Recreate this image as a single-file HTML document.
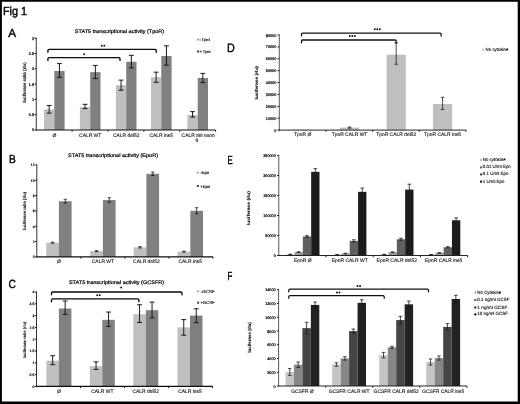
<!DOCTYPE html>
<html><head><meta charset="utf-8"><title>Fig 1</title>
<style>
html,body{margin:0;padding:0;background:#fff;}
svg{display:block;font-family:"Liberation Sans",sans-serif;}
</style></head>
<body>
<svg width="520" height="404" viewBox="0 0 520 404" text-rendering="geometricPrecision">
<defs><filter id="bl" x="0" y="0" width="100%" height="100%" filterUnits="userSpaceOnUse" primitiveUnits="userSpaceOnUse"><feGaussianBlur stdDeviation="0.45"/></filter></defs>
<g filter="url(#bl)">
<rect x="0" y="0" width="520" height="404" fill="#000"/>
<rect x="1.9" y="1.75" width="515.8" height="399.75" fill="#fff"/>
<text x="2.90" y="14.60" font-size="11.7" text-anchor="start" font-weight="normal" fill="#000" textLength="24.20" lengthAdjust="spacingAndGlyphs" stroke="#000" stroke-width="0.42">Fig 1</text>
<text x="8.30" y="36.90" font-size="11.8" text-anchor="start" font-weight="normal" fill="#000" stroke="#000" stroke-width="0.38">A</text>
<text x="9.00" y="163.10" font-size="11.8" text-anchor="start" font-weight="normal" fill="#000" textLength="6.80" lengthAdjust="spacingAndGlyphs" stroke="#000" stroke-width="0.38">B</text>
<text x="8.60" y="287.80" font-size="11.8" text-anchor="start" font-weight="normal" fill="#000" textLength="7.40" lengthAdjust="spacingAndGlyphs" stroke="#000" stroke-width="0.38">C</text>
<text x="227.00" y="52.30" font-size="12.2" text-anchor="start" font-weight="normal" fill="#000" textLength="7.80" lengthAdjust="spacingAndGlyphs" stroke="#000" stroke-width="0.38">D</text>
<text x="227.60" y="163.80" font-size="11.8" text-anchor="start" font-weight="normal" fill="#000" textLength="5.20" lengthAdjust="spacingAndGlyphs" stroke="#000" stroke-width="0.38">E</text>
<text x="227.60" y="279.50" font-size="11.8" text-anchor="start" font-weight="normal" fill="#000" textLength="4.80" lengthAdjust="spacingAndGlyphs" stroke="#000" stroke-width="0.38">F</text>
<rect x="44.00" y="109.50" width="10.30" height="20.50" fill="#bfbfbf"/>
<rect x="54.30" y="70.94" width="10.30" height="59.06" fill="#808080"/>
<rect x="79.90" y="107.05" width="10.30" height="22.95" fill="#bfbfbf"/>
<rect x="90.20" y="72.17" width="10.30" height="57.83" fill="#808080"/>
<rect x="115.90" y="85.17" width="10.30" height="44.83" fill="#bfbfbf"/>
<rect x="126.20" y="61.76" width="10.30" height="68.24" fill="#808080"/>
<rect x="151.00" y="77.22" width="10.30" height="52.78" fill="#bfbfbf"/>
<rect x="161.30" y="55.95" width="10.30" height="74.05" fill="#808080"/>
<rect x="187.40" y="115.01" width="10.30" height="14.99" fill="#bfbfbf"/>
<rect x="197.70" y="77.98" width="10.30" height="52.02" fill="#808080"/>
<line x1="36.25" y1="37.60" x2="36.25" y2="130.40" stroke="#222" stroke-width="0.924"/>
<line x1="35.85" y1="130.00" x2="215.60" y2="130.00" stroke="#111" stroke-width="1.1760000000000002"/>
<line x1="34.55" y1="130.00" x2="36.25" y2="130.00" stroke="#000" stroke-width="0.9"/>
<line x1="34.55" y1="114.70" x2="36.25" y2="114.70" stroke="#000" stroke-width="0.9"/>
<line x1="34.55" y1="99.40" x2="36.25" y2="99.40" stroke="#000" stroke-width="0.9"/>
<line x1="34.55" y1="84.10" x2="36.25" y2="84.10" stroke="#000" stroke-width="0.9"/>
<line x1="34.55" y1="68.80" x2="36.25" y2="68.80" stroke="#000" stroke-width="0.9"/>
<line x1="34.55" y1="53.50" x2="36.25" y2="53.50" stroke="#000" stroke-width="0.9"/>
<line x1="34.55" y1="38.20" x2="36.25" y2="38.20" stroke="#000" stroke-width="0.9"/>
<line x1="72.12" y1="130.00" x2="72.12" y2="131.70" stroke="#000" stroke-width="0.9"/>
<line x1="107.99" y1="130.00" x2="107.99" y2="131.70" stroke="#000" stroke-width="0.9"/>
<line x1="143.86" y1="130.00" x2="143.86" y2="131.70" stroke="#000" stroke-width="0.9"/>
<line x1="179.73" y1="130.00" x2="179.73" y2="131.70" stroke="#000" stroke-width="0.9"/>
<line x1="215.60" y1="130.00" x2="215.60" y2="131.70" stroke="#000" stroke-width="0.9"/>
<line x1="49.15" y1="105.52" x2="49.15" y2="113.17" stroke="#111" stroke-width="0.95"/>
<line x1="46.70" y1="105.52" x2="51.60" y2="105.52" stroke="#111" stroke-width="0.95"/>
<line x1="46.70" y1="113.17" x2="51.60" y2="113.17" stroke="#111" stroke-width="0.95"/>
<line x1="59.45" y1="63.60" x2="59.45" y2="77.37" stroke="#111" stroke-width="0.95"/>
<line x1="57.00" y1="63.60" x2="61.90" y2="63.60" stroke="#111" stroke-width="0.95"/>
<line x1="57.00" y1="77.37" x2="61.90" y2="77.37" stroke="#111" stroke-width="0.95"/>
<line x1="85.05" y1="104.30" x2="85.05" y2="108.58" stroke="#111" stroke-width="0.95"/>
<line x1="82.60" y1="104.30" x2="87.50" y2="104.30" stroke="#111" stroke-width="0.95"/>
<line x1="82.60" y1="108.58" x2="87.50" y2="108.58" stroke="#111" stroke-width="0.95"/>
<line x1="95.35" y1="65.43" x2="95.35" y2="78.59" stroke="#111" stroke-width="0.95"/>
<line x1="92.90" y1="65.43" x2="97.80" y2="65.43" stroke="#111" stroke-width="0.95"/>
<line x1="92.90" y1="78.59" x2="97.80" y2="78.59" stroke="#111" stroke-width="0.95"/>
<line x1="121.05" y1="80.12" x2="121.05" y2="90.22" stroke="#111" stroke-width="0.95"/>
<line x1="118.60" y1="80.12" x2="123.50" y2="80.12" stroke="#111" stroke-width="0.95"/>
<line x1="118.60" y1="90.22" x2="123.50" y2="90.22" stroke="#111" stroke-width="0.95"/>
<line x1="131.35" y1="55.34" x2="131.35" y2="67.88" stroke="#111" stroke-width="0.95"/>
<line x1="128.90" y1="55.34" x2="133.80" y2="55.34" stroke="#111" stroke-width="0.95"/>
<line x1="128.90" y1="67.88" x2="133.80" y2="67.88" stroke="#111" stroke-width="0.95"/>
<line x1="156.15" y1="72.17" x2="156.15" y2="82.26" stroke="#111" stroke-width="0.95"/>
<line x1="153.70" y1="72.17" x2="158.60" y2="72.17" stroke="#111" stroke-width="0.95"/>
<line x1="153.70" y1="82.26" x2="158.60" y2="82.26" stroke="#111" stroke-width="0.95"/>
<line x1="166.45" y1="45.85" x2="166.45" y2="65.13" stroke="#111" stroke-width="0.95"/>
<line x1="164.00" y1="45.85" x2="168.90" y2="45.85" stroke="#111" stroke-width="0.95"/>
<line x1="164.00" y1="65.13" x2="168.90" y2="65.13" stroke="#111" stroke-width="0.95"/>
<line x1="192.55" y1="111.64" x2="192.55" y2="117.15" stroke="#111" stroke-width="0.95"/>
<line x1="190.10" y1="111.64" x2="195.00" y2="111.64" stroke="#111" stroke-width="0.95"/>
<line x1="190.10" y1="117.15" x2="195.00" y2="117.15" stroke="#111" stroke-width="0.95"/>
<line x1="202.85" y1="73.39" x2="202.85" y2="82.57" stroke="#111" stroke-width="0.95"/>
<line x1="200.40" y1="73.39" x2="205.30" y2="73.39" stroke="#111" stroke-width="0.95"/>
<line x1="200.40" y1="82.57" x2="205.30" y2="82.57" stroke="#111" stroke-width="0.95"/>
<text x="34.05" y="131.40" font-size="3.75" text-anchor="end" font-weight="normal" fill="#000" stroke="#000" stroke-width="0.2">0</text>
<text x="34.05" y="116.10" font-size="3.75" text-anchor="end" font-weight="normal" fill="#000" stroke="#000" stroke-width="0.2">0.5</text>
<text x="34.05" y="100.80" font-size="3.75" text-anchor="end" font-weight="normal" fill="#000" stroke="#000" stroke-width="0.2">1</text>
<text x="34.05" y="85.50" font-size="3.75" text-anchor="end" font-weight="normal" fill="#000" stroke="#000" stroke-width="0.2">1.5</text>
<text x="34.05" y="70.20" font-size="3.75" text-anchor="end" font-weight="normal" fill="#000" stroke="#000" stroke-width="0.2">2</text>
<text x="34.05" y="54.90" font-size="3.75" text-anchor="end" font-weight="normal" fill="#000" stroke="#000" stroke-width="0.2">2.5</text>
<text x="34.05" y="39.60" font-size="3.75" text-anchor="end" font-weight="normal" fill="#000" stroke="#000" stroke-width="0.2">3</text>
<text x="119.50" y="32.70" font-size="5.1" text-anchor="middle" font-weight="normal" fill="#000" textLength="89.40" lengthAdjust="spacingAndGlyphs" stroke="#000" stroke-width="0.2">STAT5 transcriptional activity (TpoR)</text>
<text x="54.30" y="136.90" font-size="4.95" text-anchor="middle" font-weight="normal" fill="#111" stroke="#111" stroke-width="0.11">Ø</text>
<text x="90.20" y="136.90" font-size="4.95" text-anchor="middle" font-weight="normal" fill="#111" stroke="#111" stroke-width="0.11">CALR WT</text>
<text x="126.20" y="136.90" font-size="4.95" text-anchor="middle" font-weight="normal" fill="#111" stroke="#111" stroke-width="0.11">CALR del52</text>
<text x="161.30" y="136.90" font-size="4.95" text-anchor="middle" font-weight="normal" fill="#111" stroke="#111" stroke-width="0.11">CALR ins5</text>
<text x="198.20" y="136.90" font-size="4.95" text-anchor="middle" font-weight="normal" fill="#111" stroke="#111" stroke-width="0.11">CALR del exon</text>
<text x="196.80" y="142.10" font-size="4.95" text-anchor="middle" font-weight="normal" fill="#111" stroke="#111" stroke-width="0.11">9</text>
<text x="24.20" y="82.60" font-size="4.6" text-anchor="middle" font-weight="bold" fill="#111" transform="rotate(-90 24.20 82.60)" textLength="40.50" lengthAdjust="spacingAndGlyphs" dominant-baseline="central" stroke="#111" stroke-width="0.1">luciferase ratio (rlu)</text>
<rect x="197.10" y="38.60" width="2.00" height="2.00" fill="#a4a4a4"/>
<text x="199.60" y="41.10" font-size="4.0" text-anchor="start" font-weight="normal" fill="#000" textLength="10.40" lengthAdjust="spacingAndGlyphs" stroke="#000" stroke-width="0.13">-Tpo</text>
<rect x="197.10" y="50.50" width="2.00" height="2.00" fill="#3c3c3c"/>
<text x="199.60" y="53.00" font-size="4.0" text-anchor="start" font-weight="normal" fill="#000" textLength="11.00" lengthAdjust="spacingAndGlyphs" stroke="#000" stroke-width="0.13">+Tpo</text>
<path d="M47.90,52.20 L47.90,50.60 Q47.90,49.40 49.10,49.40 L155.00,49.40 Q156.20,49.40 156.20,50.60 L156.20,52.20" fill="none" stroke="#080808" stroke-width="1.35" stroke-linecap="round"/>
<path d="M47.90,60.40 L47.90,58.80 Q47.90,57.60 49.10,57.60 L118.80,57.60 Q120.00,57.60 120.00,58.80 L120.00,60.40" fill="none" stroke="#080808" stroke-width="1.35" stroke-linecap="round"/>
<circle cx="101.72" cy="45.70" r="0.98" fill="#111"/>
<circle cx="104.28" cy="45.70" r="0.98" fill="#111"/>
<circle cx="84.20" cy="54.30" r="0.98" fill="#111"/>
<rect x="46.20" y="242.73" width="12.70" height="14.17" fill="#bfbfbf"/>
<rect x="58.90" y="201.21" width="12.70" height="55.69" fill="#808080"/>
<rect x="90.20" y="251.15" width="12.70" height="5.75" fill="#bfbfbf"/>
<rect x="102.90" y="200.06" width="12.70" height="56.84" fill="#808080"/>
<rect x="133.70" y="247.32" width="12.70" height="9.57" fill="#bfbfbf"/>
<rect x="146.40" y="173.79" width="12.70" height="83.11" fill="#808080"/>
<rect x="177.60" y="251.69" width="12.70" height="5.21" fill="#bfbfbf"/>
<rect x="190.30" y="210.79" width="12.70" height="46.11" fill="#808080"/>
<line x1="36.80" y1="164.50" x2="36.80" y2="257.30" stroke="#222" stroke-width="0.924"/>
<line x1="36.40" y1="256.90" x2="213.00" y2="256.90" stroke="#111" stroke-width="1.1760000000000002"/>
<line x1="35.10" y1="256.90" x2="36.80" y2="256.90" stroke="#000" stroke-width="0.9"/>
<line x1="35.10" y1="241.58" x2="36.80" y2="241.58" stroke="#000" stroke-width="0.9"/>
<line x1="35.10" y1="226.26" x2="36.80" y2="226.26" stroke="#000" stroke-width="0.9"/>
<line x1="35.10" y1="210.94" x2="36.80" y2="210.94" stroke="#000" stroke-width="0.9"/>
<line x1="35.10" y1="195.62" x2="36.80" y2="195.62" stroke="#000" stroke-width="0.9"/>
<line x1="35.10" y1="180.30" x2="36.80" y2="180.30" stroke="#000" stroke-width="0.9"/>
<line x1="35.10" y1="164.98" x2="36.80" y2="164.98" stroke="#000" stroke-width="0.9"/>
<line x1="80.85" y1="256.90" x2="80.85" y2="258.60" stroke="#000" stroke-width="0.9"/>
<line x1="124.90" y1="256.90" x2="124.90" y2="258.60" stroke="#000" stroke-width="0.9"/>
<line x1="168.95" y1="256.90" x2="168.95" y2="258.60" stroke="#000" stroke-width="0.9"/>
<line x1="213.00" y1="256.90" x2="213.00" y2="258.60" stroke="#000" stroke-width="0.9"/>
<line x1="52.55" y1="242.19" x2="52.55" y2="243.27" stroke="#111" stroke-width="0.75"/>
<line x1="50.85" y1="242.19" x2="54.25" y2="242.19" stroke="#111" stroke-width="0.75"/>
<line x1="50.85" y1="243.27" x2="54.25" y2="243.27" stroke="#111" stroke-width="0.75"/>
<line x1="65.25" y1="199.30" x2="65.25" y2="203.13" stroke="#111" stroke-width="0.75"/>
<line x1="63.55" y1="199.30" x2="66.95" y2="199.30" stroke="#111" stroke-width="0.75"/>
<line x1="63.55" y1="203.13" x2="66.95" y2="203.13" stroke="#111" stroke-width="0.75"/>
<line x1="96.55" y1="250.62" x2="96.55" y2="251.69" stroke="#111" stroke-width="0.75"/>
<line x1="94.85" y1="250.62" x2="98.25" y2="250.62" stroke="#111" stroke-width="0.75"/>
<line x1="94.85" y1="251.69" x2="98.25" y2="251.69" stroke="#111" stroke-width="0.75"/>
<line x1="109.25" y1="197.76" x2="109.25" y2="202.36" stroke="#111" stroke-width="0.75"/>
<line x1="107.55" y1="197.76" x2="110.95" y2="197.76" stroke="#111" stroke-width="0.75"/>
<line x1="107.55" y1="202.36" x2="110.95" y2="202.36" stroke="#111" stroke-width="0.75"/>
<line x1="140.05" y1="246.64" x2="140.05" y2="248.01" stroke="#111" stroke-width="0.75"/>
<line x1="138.35" y1="246.64" x2="141.75" y2="246.64" stroke="#111" stroke-width="0.75"/>
<line x1="138.35" y1="248.01" x2="141.75" y2="248.01" stroke="#111" stroke-width="0.75"/>
<line x1="152.75" y1="172.10" x2="152.75" y2="175.47" stroke="#111" stroke-width="0.75"/>
<line x1="151.05" y1="172.10" x2="154.45" y2="172.10" stroke="#111" stroke-width="0.75"/>
<line x1="151.05" y1="175.47" x2="154.45" y2="175.47" stroke="#111" stroke-width="0.75"/>
<line x1="183.95" y1="251.15" x2="183.95" y2="252.23" stroke="#111" stroke-width="0.75"/>
<line x1="182.25" y1="251.15" x2="185.65" y2="251.15" stroke="#111" stroke-width="0.75"/>
<line x1="182.25" y1="252.23" x2="185.65" y2="252.23" stroke="#111" stroke-width="0.75"/>
<line x1="196.65" y1="207.72" x2="196.65" y2="213.85" stroke="#111" stroke-width="0.75"/>
<line x1="194.95" y1="207.72" x2="198.35" y2="207.72" stroke="#111" stroke-width="0.75"/>
<line x1="194.95" y1="213.85" x2="198.35" y2="213.85" stroke="#111" stroke-width="0.75"/>
<text x="34.60" y="258.30" font-size="3.45" text-anchor="end" font-weight="normal" fill="#000" stroke="#000" stroke-width="0.2">0</text>
<text x="34.60" y="242.98" font-size="3.45" text-anchor="end" font-weight="normal" fill="#000" stroke="#000" stroke-width="0.2">2</text>
<text x="34.60" y="227.66" font-size="3.45" text-anchor="end" font-weight="normal" fill="#000" stroke="#000" stroke-width="0.2">4</text>
<text x="34.60" y="212.34" font-size="3.45" text-anchor="end" font-weight="normal" fill="#000" stroke="#000" stroke-width="0.2">6</text>
<text x="34.60" y="197.02" font-size="3.45" text-anchor="end" font-weight="normal" fill="#000" stroke="#000" stroke-width="0.2">8</text>
<text x="34.60" y="181.70" font-size="3.45" text-anchor="end" font-weight="normal" fill="#000" stroke="#000" stroke-width="0.2">10</text>
<text x="34.60" y="166.38" font-size="3.45" text-anchor="end" font-weight="normal" fill="#000" stroke="#000" stroke-width="0.2">12</text>
<text x="113.00" y="156.60" font-size="5.1" text-anchor="middle" font-weight="normal" fill="#000" textLength="90.00" lengthAdjust="spacingAndGlyphs" stroke="#000" stroke-width="0.2">STAT5 transcriptional activity (EpoR)</text>
<text x="58.90" y="262.80" font-size="4.95" text-anchor="middle" font-weight="normal" fill="#111" stroke="#111" stroke-width="0.11">Ø</text>
<text x="102.90" y="262.80" font-size="4.95" text-anchor="middle" font-weight="normal" fill="#111" stroke="#111" stroke-width="0.11">CALR WT</text>
<text x="146.40" y="262.80" font-size="4.95" text-anchor="middle" font-weight="normal" fill="#111" stroke="#111" stroke-width="0.11">CALR del52</text>
<text x="190.30" y="262.80" font-size="4.95" text-anchor="middle" font-weight="normal" fill="#111" stroke="#111" stroke-width="0.11">CALR ins5</text>
<text x="24.00" y="211.00" font-size="4.4" text-anchor="middle" font-weight="bold" fill="#111" transform="rotate(-90 24.00 211.00)" textLength="38.00" lengthAdjust="spacingAndGlyphs" dominant-baseline="central" stroke="#111" stroke-width="0.1">luciferase ratio (rlu)</text>
<rect x="196.80" y="171.70" width="2.00" height="2.00" fill="#a4a4a4"/>
<text x="200.20" y="174.20" font-size="4.0" text-anchor="start" font-weight="normal" fill="#000" textLength="9.00" lengthAdjust="spacingAndGlyphs" stroke="#000" stroke-width="0.13">-Epo</text>
<rect x="196.80" y="185.00" width="2.00" height="2.00" fill="#3c3c3c"/>
<text x="200.20" y="187.50" font-size="4.0" text-anchor="start" font-weight="normal" fill="#000" textLength="10.00" lengthAdjust="spacingAndGlyphs" stroke="#000" stroke-width="0.13">+Epo</text>
<rect x="46.40" y="360.68" width="12.50" height="25.72" fill="#bfbfbf"/>
<rect x="58.90" y="308.52" width="12.50" height="77.88" fill="#808080"/>
<rect x="89.80" y="366.22" width="12.50" height="20.18" fill="#bfbfbf"/>
<rect x="102.30" y="319.85" width="12.50" height="66.55" fill="#808080"/>
<rect x="133.30" y="314.18" width="12.50" height="72.22" fill="#bfbfbf"/>
<rect x="145.80" y="310.17" width="12.50" height="76.23" fill="#808080"/>
<rect x="177.50" y="327.40" width="12.50" height="59.00" fill="#bfbfbf"/>
<rect x="190.00" y="315.60" width="12.50" height="70.80" fill="#808080"/>
<line x1="36.50" y1="291.50" x2="36.50" y2="386.80" stroke="#222" stroke-width="0.924"/>
<line x1="36.10" y1="386.40" x2="212.60" y2="386.40" stroke="#111" stroke-width="1.1760000000000002"/>
<line x1="34.80" y1="386.40" x2="36.50" y2="386.40" stroke="#000" stroke-width="0.9"/>
<line x1="34.80" y1="374.60" x2="36.50" y2="374.60" stroke="#000" stroke-width="0.9"/>
<line x1="34.80" y1="362.80" x2="36.50" y2="362.80" stroke="#000" stroke-width="0.9"/>
<line x1="34.80" y1="351.00" x2="36.50" y2="351.00" stroke="#000" stroke-width="0.9"/>
<line x1="34.80" y1="339.20" x2="36.50" y2="339.20" stroke="#000" stroke-width="0.9"/>
<line x1="34.80" y1="327.40" x2="36.50" y2="327.40" stroke="#000" stroke-width="0.9"/>
<line x1="34.80" y1="315.60" x2="36.50" y2="315.60" stroke="#000" stroke-width="0.9"/>
<line x1="34.80" y1="303.80" x2="36.50" y2="303.80" stroke="#000" stroke-width="0.9"/>
<line x1="34.80" y1="292.00" x2="36.50" y2="292.00" stroke="#000" stroke-width="0.9"/>
<line x1="80.53" y1="386.40" x2="80.53" y2="388.10" stroke="#000" stroke-width="0.9"/>
<line x1="124.55" y1="386.40" x2="124.55" y2="388.10" stroke="#000" stroke-width="0.9"/>
<line x1="168.57" y1="386.40" x2="168.57" y2="388.10" stroke="#000" stroke-width="0.9"/>
<line x1="212.60" y1="386.40" x2="212.60" y2="388.10" stroke="#000" stroke-width="0.9"/>
<line x1="52.65" y1="355.72" x2="52.65" y2="364.69" stroke="#111" stroke-width="0.95"/>
<line x1="50.20" y1="355.72" x2="55.10" y2="355.72" stroke="#111" stroke-width="0.95"/>
<line x1="50.20" y1="364.69" x2="55.10" y2="364.69" stroke="#111" stroke-width="0.95"/>
<line x1="65.15" y1="300.97" x2="65.15" y2="314.42" stroke="#111" stroke-width="0.95"/>
<line x1="62.70" y1="300.97" x2="67.60" y2="300.97" stroke="#111" stroke-width="0.95"/>
<line x1="62.70" y1="314.42" x2="67.60" y2="314.42" stroke="#111" stroke-width="0.95"/>
<line x1="96.05" y1="361.86" x2="96.05" y2="369.41" stroke="#111" stroke-width="0.95"/>
<line x1="93.60" y1="361.86" x2="98.50" y2="361.86" stroke="#111" stroke-width="0.95"/>
<line x1="93.60" y1="369.41" x2="98.50" y2="369.41" stroke="#111" stroke-width="0.95"/>
<line x1="108.55" y1="312.06" x2="108.55" y2="326.46" stroke="#111" stroke-width="0.95"/>
<line x1="106.10" y1="312.06" x2="111.00" y2="312.06" stroke="#111" stroke-width="0.95"/>
<line x1="106.10" y1="326.46" x2="111.00" y2="326.46" stroke="#111" stroke-width="0.95"/>
<line x1="139.55" y1="304.74" x2="139.55" y2="322.44" stroke="#111" stroke-width="0.95"/>
<line x1="137.10" y1="304.74" x2="142.00" y2="304.74" stroke="#111" stroke-width="0.95"/>
<line x1="137.10" y1="322.44" x2="142.00" y2="322.44" stroke="#111" stroke-width="0.95"/>
<line x1="152.05" y1="302.15" x2="152.05" y2="317.96" stroke="#111" stroke-width="0.95"/>
<line x1="149.60" y1="302.15" x2="154.50" y2="302.15" stroke="#111" stroke-width="0.95"/>
<line x1="149.60" y1="317.96" x2="154.50" y2="317.96" stroke="#111" stroke-width="0.95"/>
<line x1="183.75" y1="319.61" x2="183.75" y2="335.19" stroke="#111" stroke-width="0.95"/>
<line x1="181.30" y1="319.61" x2="186.20" y2="319.61" stroke="#111" stroke-width="0.95"/>
<line x1="181.30" y1="335.19" x2="186.20" y2="335.19" stroke="#111" stroke-width="0.95"/>
<line x1="196.25" y1="308.76" x2="196.25" y2="322.68" stroke="#111" stroke-width="0.95"/>
<line x1="193.80" y1="308.76" x2="198.70" y2="308.76" stroke="#111" stroke-width="0.95"/>
<line x1="193.80" y1="322.68" x2="198.70" y2="322.68" stroke="#111" stroke-width="0.95"/>
<text x="34.30" y="387.80" font-size="3.45" text-anchor="end" font-weight="normal" fill="#000" stroke="#000" stroke-width="0.2">0</text>
<text x="34.30" y="376.00" font-size="3.45" text-anchor="end" font-weight="normal" fill="#000" stroke="#000" stroke-width="0.2">0.5</text>
<text x="34.30" y="364.20" font-size="3.45" text-anchor="end" font-weight="normal" fill="#000" stroke="#000" stroke-width="0.2">1</text>
<text x="34.30" y="352.40" font-size="3.45" text-anchor="end" font-weight="normal" fill="#000" stroke="#000" stroke-width="0.2">1.5</text>
<text x="34.30" y="340.60" font-size="3.45" text-anchor="end" font-weight="normal" fill="#000" stroke="#000" stroke-width="0.2">2</text>
<text x="34.30" y="328.80" font-size="3.45" text-anchor="end" font-weight="normal" fill="#000" stroke="#000" stroke-width="0.2">2.5</text>
<text x="34.30" y="317.00" font-size="3.45" text-anchor="end" font-weight="normal" fill="#000" stroke="#000" stroke-width="0.2">3</text>
<text x="34.30" y="305.20" font-size="3.45" text-anchor="end" font-weight="normal" fill="#000" stroke="#000" stroke-width="0.2">3.5</text>
<text x="34.30" y="293.40" font-size="3.45" text-anchor="end" font-weight="normal" fill="#000" stroke="#000" stroke-width="0.2">4</text>
<text x="116.50" y="284.20" font-size="5.1" text-anchor="middle" font-weight="normal" fill="#000" textLength="95.20" lengthAdjust="spacingAndGlyphs" stroke="#000" stroke-width="0.2">STAT5 transcriptional activity (GCSFR)</text>
<text x="58.90" y="392.80" font-size="4.95" text-anchor="middle" font-weight="normal" fill="#111" stroke="#111" stroke-width="0.11">Ø</text>
<text x="102.30" y="392.80" font-size="4.95" text-anchor="middle" font-weight="normal" fill="#111" stroke="#111" stroke-width="0.11">CALR WT</text>
<text x="145.80" y="392.80" font-size="4.95" text-anchor="middle" font-weight="normal" fill="#111" stroke="#111" stroke-width="0.11">CALR del52</text>
<text x="190.00" y="392.80" font-size="4.95" text-anchor="middle" font-weight="normal" fill="#111" stroke="#111" stroke-width="0.11">CALR ins5</text>
<text x="24.00" y="340.00" font-size="4.2" text-anchor="middle" font-weight="bold" fill="#111" transform="rotate(-90 24.00 340.00)" textLength="36.50" lengthAdjust="spacingAndGlyphs" dominant-baseline="central" stroke="#111" stroke-width="0.1">luciferase ratio (rlu)</text>
<rect x="197.10" y="290.30" width="2.00" height="2.00" fill="#a4a4a4"/>
<text x="200.40" y="292.80" font-size="4.0" text-anchor="start" font-weight="normal" fill="#000" textLength="14.20" lengthAdjust="spacingAndGlyphs" stroke="#000" stroke-width="0.13">-GCSF</text>
<rect x="197.10" y="301.70" width="2.00" height="2.00" fill="#3c3c3c"/>
<text x="200.40" y="304.20" font-size="4.0" text-anchor="start" font-weight="normal" fill="#000" textLength="14.20" lengthAdjust="spacingAndGlyphs" stroke="#000" stroke-width="0.13">+GCSF</text>
<path d="M51.50,294.80 L51.50,293.20 Q51.50,292.00 52.70,292.00 L180.80,292.00 Q182.00,292.00 182.00,293.20 L182.00,294.80" fill="none" stroke="#080808" stroke-width="1.35" stroke-linecap="round"/>
<path d="M51.50,301.70 L51.50,300.10 Q51.50,298.90 52.70,298.90 L137.70,298.90 Q138.90,298.90 138.90,300.10 L138.90,301.70" fill="none" stroke="#080808" stroke-width="1.35" stroke-linecap="round"/>
<circle cx="121.20" cy="287.50" r="0.98" fill="#111"/>
<circle cx="97.22" cy="295.30" r="0.98" fill="#111"/>
<circle cx="99.78" cy="295.30" r="0.98" fill="#111"/>
<rect x="293.05" y="129.74" width="19.20" height="0.36" fill="#bfbfbf"/>
<rect x="339.90" y="127.60" width="19.20" height="2.50" fill="#bfbfbf"/>
<rect x="386.60" y="54.72" width="19.20" height="75.38" fill="#bfbfbf"/>
<rect x="433.00" y="104.06" width="19.20" height="26.04" fill="#bfbfbf"/>
<line x1="279.30" y1="34.50" x2="279.30" y2="130.50" stroke="#222" stroke-width="0.748"/>
<line x1="278.90" y1="130.10" x2="466.00" y2="130.10" stroke="#1a1a1a" stroke-width="0.9520000000000001"/>
<line x1="277.60" y1="130.10" x2="279.30" y2="130.10" stroke="#000" stroke-width="0.9"/>
<line x1="277.60" y1="118.21" x2="279.30" y2="118.21" stroke="#000" stroke-width="0.9"/>
<line x1="277.60" y1="106.32" x2="279.30" y2="106.32" stroke="#000" stroke-width="0.9"/>
<line x1="277.60" y1="94.43" x2="279.30" y2="94.43" stroke="#000" stroke-width="0.9"/>
<line x1="277.60" y1="82.54" x2="279.30" y2="82.54" stroke="#000" stroke-width="0.9"/>
<line x1="277.60" y1="70.65" x2="279.30" y2="70.65" stroke="#000" stroke-width="0.9"/>
<line x1="277.60" y1="58.76" x2="279.30" y2="58.76" stroke="#000" stroke-width="0.9"/>
<line x1="277.60" y1="46.87" x2="279.30" y2="46.87" stroke="#000" stroke-width="0.9"/>
<line x1="277.60" y1="34.98" x2="279.30" y2="34.98" stroke="#000" stroke-width="0.9"/>
<line x1="325.98" y1="130.10" x2="325.98" y2="131.80" stroke="#000" stroke-width="0.9"/>
<line x1="372.65" y1="130.10" x2="372.65" y2="131.80" stroke="#000" stroke-width="0.9"/>
<line x1="419.32" y1="130.10" x2="419.32" y2="131.80" stroke="#000" stroke-width="0.9"/>
<line x1="466.00" y1="130.10" x2="466.00" y2="131.80" stroke="#000" stroke-width="0.9"/>
<line x1="349.50" y1="127.07" x2="349.50" y2="128.14" stroke="#1c1c1c" stroke-width="0.8"/>
<line x1="347.70" y1="127.07" x2="351.30" y2="127.07" stroke="#1c1c1c" stroke-width="0.8"/>
<line x1="347.70" y1="128.14" x2="351.30" y2="128.14" stroke="#1c1c1c" stroke-width="0.8"/>
<line x1="396.20" y1="42.83" x2="396.20" y2="64.23" stroke="#1c1c1c" stroke-width="0.8"/>
<line x1="394.40" y1="42.83" x2="398.00" y2="42.83" stroke="#1c1c1c" stroke-width="0.8"/>
<line x1="394.40" y1="64.23" x2="398.00" y2="64.23" stroke="#1c1c1c" stroke-width="0.8"/>
<line x1="442.60" y1="97.28" x2="442.60" y2="109.53" stroke="#1c1c1c" stroke-width="0.8"/>
<line x1="440.80" y1="97.28" x2="444.40" y2="97.28" stroke="#1c1c1c" stroke-width="0.8"/>
<line x1="440.80" y1="109.53" x2="444.40" y2="109.53" stroke="#1c1c1c" stroke-width="0.8"/>
<text x="276.30" y="131.70" font-size="3.75" text-anchor="end" font-weight="normal" fill="#000" stroke="#000" stroke-width="0.2">0</text>
<text x="276.30" y="119.81" font-size="3.75" text-anchor="end" font-weight="normal" fill="#000" stroke="#000" stroke-width="0.2">10000</text>
<text x="276.30" y="107.92" font-size="3.75" text-anchor="end" font-weight="normal" fill="#000" stroke="#000" stroke-width="0.2">20000</text>
<text x="276.30" y="96.03" font-size="3.75" text-anchor="end" font-weight="normal" fill="#000" stroke="#000" stroke-width="0.2">30000</text>
<text x="276.30" y="84.14" font-size="3.75" text-anchor="end" font-weight="normal" fill="#000" stroke="#000" stroke-width="0.2">40000</text>
<text x="276.30" y="72.25" font-size="3.75" text-anchor="end" font-weight="normal" fill="#000" stroke="#000" stroke-width="0.2">50000</text>
<text x="276.30" y="60.36" font-size="3.75" text-anchor="end" font-weight="normal" fill="#000" stroke="#000" stroke-width="0.2">60000</text>
<text x="276.30" y="48.47" font-size="3.75" text-anchor="end" font-weight="normal" fill="#000" stroke="#000" stroke-width="0.2">70000</text>
<text x="276.30" y="36.58" font-size="3.75" text-anchor="end" font-weight="normal" fill="#000" stroke="#000" stroke-width="0.2">80000</text>
<text x="302.65" y="136.10" font-size="4.95" text-anchor="middle" font-weight="normal" fill="#111" stroke="#111" stroke-width="0.11">TpoR Ø</text>
<text x="349.50" y="136.10" font-size="4.95" text-anchor="middle" font-weight="normal" fill="#111" stroke="#111" stroke-width="0.11">TpoR CALR WT</text>
<text x="396.20" y="136.10" font-size="4.95" text-anchor="middle" font-weight="normal" fill="#111" stroke="#111" stroke-width="0.11">TpoR CALR del52</text>
<text x="442.60" y="136.10" font-size="4.95" text-anchor="middle" font-weight="normal" fill="#111" stroke="#111" stroke-width="0.11">TpoR CALR ins5</text>
<text x="256.20" y="82.80" font-size="4.4" text-anchor="middle" font-weight="bold" fill="#111" transform="rotate(-90 256.20 82.80)" textLength="33.60" lengthAdjust="spacingAndGlyphs" dominant-baseline="central" stroke="#111" stroke-width="0.1">luciferase (rlu)</text>
<rect x="482.10" y="48.70" width="2.00" height="2.00" fill="#c8c8c8"/>
<text x="485.60" y="50.75" font-size="4.5" text-anchor="start" font-weight="normal" fill="#000" textLength="22.80" lengthAdjust="spacingAndGlyphs" stroke="#000" stroke-width="0.1">No cytokine</text>
<path d="M301.50,35.90 L301.50,34.30 Q301.50,33.10 302.70,33.10 L440.00,33.10 Q441.20,33.10 441.20,34.30 L441.20,35.90" fill="none" stroke="#111" stroke-width="1.3" stroke-linecap="round"/>
<path d="M301.50,42.80 L301.50,41.20 Q301.50,40.00 302.70,40.00 L395.00,40.00 Q396.20,40.00 396.20,41.20 L396.20,42.80" fill="none" stroke="#111" stroke-width="1.3" stroke-linecap="round"/>
<circle cx="374.75" cy="29.30" r="0.98" fill="#111"/>
<circle cx="377.30" cy="29.30" r="0.98" fill="#111"/>
<circle cx="379.85" cy="29.30" r="0.98" fill="#111"/>
<circle cx="349.75" cy="36.10" r="0.98" fill="#111"/>
<circle cx="352.30" cy="36.10" r="0.98" fill="#111"/>
<circle cx="354.85" cy="36.10" r="0.98" fill="#111"/>
<rect x="286.10" y="254.38" width="8.35" height="1.12" fill="#c8c8c8"/>
<rect x="294.45" y="252.10" width="8.35" height="3.40" fill="#9a9a9a"/>
<rect x="302.80" y="236.48" width="8.35" height="19.02" fill="#5e5e5e"/>
<rect x="311.15" y="171.82" width="8.35" height="83.68" fill="#1e1e1e"/>
<rect x="333.00" y="254.70" width="8.35" height="0.80" fill="#c8c8c8"/>
<rect x="341.35" y="253.50" width="8.35" height="2.00" fill="#9a9a9a"/>
<rect x="349.70" y="240.89" width="8.35" height="14.61" fill="#5e5e5e"/>
<rect x="358.05" y="191.84" width="8.35" height="63.66" fill="#1e1e1e"/>
<rect x="380.10" y="254.50" width="8.35" height="1.00" fill="#c8c8c8"/>
<rect x="388.45" y="252.18" width="8.35" height="3.32" fill="#9a9a9a"/>
<rect x="396.80" y="239.28" width="8.35" height="16.22" fill="#5e5e5e"/>
<rect x="405.15" y="189.59" width="8.35" height="65.91" fill="#1e1e1e"/>
<rect x="426.90" y="254.70" width="8.35" height="0.80" fill="#c8c8c8"/>
<rect x="435.25" y="252.90" width="8.35" height="2.60" fill="#9a9a9a"/>
<rect x="443.60" y="247.29" width="8.35" height="8.21" fill="#5e5e5e"/>
<rect x="451.95" y="220.26" width="8.35" height="35.24" fill="#1e1e1e"/>
<line x1="278.80" y1="154.90" x2="278.80" y2="255.90" stroke="#222" stroke-width="0.748"/>
<line x1="278.40" y1="255.50" x2="467.60" y2="255.50" stroke="#1a1a1a" stroke-width="0.9520000000000001"/>
<line x1="277.10" y1="255.50" x2="278.80" y2="255.50" stroke="#000" stroke-width="0.9"/>
<line x1="277.10" y1="235.48" x2="278.80" y2="235.48" stroke="#000" stroke-width="0.9"/>
<line x1="277.10" y1="215.46" x2="278.80" y2="215.46" stroke="#000" stroke-width="0.9"/>
<line x1="277.10" y1="195.44" x2="278.80" y2="195.44" stroke="#000" stroke-width="0.9"/>
<line x1="277.10" y1="175.42" x2="278.80" y2="175.42" stroke="#000" stroke-width="0.9"/>
<line x1="277.10" y1="155.40" x2="278.80" y2="155.40" stroke="#000" stroke-width="0.9"/>
<line x1="326.00" y1="255.50" x2="326.00" y2="257.20" stroke="#000" stroke-width="0.9"/>
<line x1="373.20" y1="255.50" x2="373.20" y2="257.20" stroke="#000" stroke-width="0.9"/>
<line x1="420.40" y1="255.50" x2="420.40" y2="257.20" stroke="#000" stroke-width="0.9"/>
<line x1="467.60" y1="255.50" x2="467.60" y2="257.20" stroke="#000" stroke-width="0.9"/>
<line x1="290.28" y1="254.18" x2="290.28" y2="254.58" stroke="#1c1c1c" stroke-width="0.8"/>
<line x1="288.48" y1="254.18" x2="292.08" y2="254.18" stroke="#1c1c1c" stroke-width="0.8"/>
<line x1="288.48" y1="254.58" x2="292.08" y2="254.58" stroke="#1c1c1c" stroke-width="0.8"/>
<line x1="298.63" y1="251.78" x2="298.63" y2="252.42" stroke="#1c1c1c" stroke-width="0.8"/>
<line x1="296.83" y1="251.78" x2="300.43" y2="251.78" stroke="#1c1c1c" stroke-width="0.8"/>
<line x1="296.83" y1="252.42" x2="300.43" y2="252.42" stroke="#1c1c1c" stroke-width="0.8"/>
<line x1="306.98" y1="235.68" x2="306.98" y2="237.28" stroke="#1c1c1c" stroke-width="0.8"/>
<line x1="305.18" y1="235.68" x2="308.78" y2="235.68" stroke="#1c1c1c" stroke-width="0.8"/>
<line x1="305.18" y1="237.28" x2="308.78" y2="237.28" stroke="#1c1c1c" stroke-width="0.8"/>
<line x1="315.33" y1="168.61" x2="315.33" y2="175.02" stroke="#1c1c1c" stroke-width="0.8"/>
<line x1="313.53" y1="168.61" x2="317.13" y2="168.61" stroke="#1c1c1c" stroke-width="0.8"/>
<line x1="313.53" y1="175.02" x2="317.13" y2="175.02" stroke="#1c1c1c" stroke-width="0.8"/>
<line x1="337.18" y1="254.50" x2="337.18" y2="254.90" stroke="#1c1c1c" stroke-width="0.8"/>
<line x1="335.38" y1="254.50" x2="338.98" y2="254.50" stroke="#1c1c1c" stroke-width="0.8"/>
<line x1="335.38" y1="254.90" x2="338.98" y2="254.90" stroke="#1c1c1c" stroke-width="0.8"/>
<line x1="345.53" y1="253.22" x2="345.53" y2="253.78" stroke="#1c1c1c" stroke-width="0.8"/>
<line x1="343.73" y1="253.22" x2="347.33" y2="253.22" stroke="#1c1c1c" stroke-width="0.8"/>
<line x1="343.73" y1="253.78" x2="347.33" y2="253.78" stroke="#1c1c1c" stroke-width="0.8"/>
<line x1="353.88" y1="239.76" x2="353.88" y2="242.01" stroke="#1c1c1c" stroke-width="0.8"/>
<line x1="352.07" y1="239.76" x2="355.68" y2="239.76" stroke="#1c1c1c" stroke-width="0.8"/>
<line x1="352.07" y1="242.01" x2="355.68" y2="242.01" stroke="#1c1c1c" stroke-width="0.8"/>
<line x1="362.23" y1="188.03" x2="362.23" y2="195.64" stroke="#1c1c1c" stroke-width="0.8"/>
<line x1="360.43" y1="188.03" x2="364.03" y2="188.03" stroke="#1c1c1c" stroke-width="0.8"/>
<line x1="360.43" y1="195.64" x2="364.03" y2="195.64" stroke="#1c1c1c" stroke-width="0.8"/>
<line x1="384.28" y1="254.30" x2="384.28" y2="254.70" stroke="#1c1c1c" stroke-width="0.8"/>
<line x1="382.48" y1="254.30" x2="386.08" y2="254.30" stroke="#1c1c1c" stroke-width="0.8"/>
<line x1="382.48" y1="254.70" x2="386.08" y2="254.70" stroke="#1c1c1c" stroke-width="0.8"/>
<line x1="392.63" y1="251.86" x2="392.63" y2="252.50" stroke="#1c1c1c" stroke-width="0.8"/>
<line x1="390.83" y1="251.86" x2="394.43" y2="251.86" stroke="#1c1c1c" stroke-width="0.8"/>
<line x1="390.83" y1="252.50" x2="394.43" y2="252.50" stroke="#1c1c1c" stroke-width="0.8"/>
<line x1="400.98" y1="238.28" x2="400.98" y2="240.28" stroke="#1c1c1c" stroke-width="0.8"/>
<line x1="399.18" y1="238.28" x2="402.78" y2="238.28" stroke="#1c1c1c" stroke-width="0.8"/>
<line x1="399.18" y1="240.28" x2="402.78" y2="240.28" stroke="#1c1c1c" stroke-width="0.8"/>
<line x1="409.33" y1="184.19" x2="409.33" y2="195.00" stroke="#1c1c1c" stroke-width="0.8"/>
<line x1="407.53" y1="184.19" x2="411.13" y2="184.19" stroke="#1c1c1c" stroke-width="0.8"/>
<line x1="407.53" y1="195.00" x2="411.13" y2="195.00" stroke="#1c1c1c" stroke-width="0.8"/>
<line x1="431.08" y1="254.50" x2="431.08" y2="254.90" stroke="#1c1c1c" stroke-width="0.8"/>
<line x1="429.28" y1="254.50" x2="432.88" y2="254.50" stroke="#1c1c1c" stroke-width="0.8"/>
<line x1="429.28" y1="254.90" x2="432.88" y2="254.90" stroke="#1c1c1c" stroke-width="0.8"/>
<line x1="439.43" y1="252.62" x2="439.43" y2="253.18" stroke="#1c1c1c" stroke-width="0.8"/>
<line x1="437.63" y1="252.62" x2="441.23" y2="252.62" stroke="#1c1c1c" stroke-width="0.8"/>
<line x1="437.63" y1="253.18" x2="441.23" y2="253.18" stroke="#1c1c1c" stroke-width="0.8"/>
<line x1="447.78" y1="246.69" x2="447.78" y2="247.89" stroke="#1c1c1c" stroke-width="0.8"/>
<line x1="445.98" y1="246.69" x2="449.58" y2="246.69" stroke="#1c1c1c" stroke-width="0.8"/>
<line x1="445.98" y1="247.89" x2="449.58" y2="247.89" stroke="#1c1c1c" stroke-width="0.8"/>
<line x1="456.13" y1="217.86" x2="456.13" y2="222.67" stroke="#1c1c1c" stroke-width="0.8"/>
<line x1="454.33" y1="217.86" x2="457.93" y2="217.86" stroke="#1c1c1c" stroke-width="0.8"/>
<line x1="454.33" y1="222.67" x2="457.93" y2="222.67" stroke="#1c1c1c" stroke-width="0.8"/>
<text x="275.80" y="257.10" font-size="3.75" text-anchor="end" font-weight="normal" fill="#000" stroke="#000" stroke-width="0.2">0</text>
<text x="275.80" y="237.08" font-size="3.75" text-anchor="end" font-weight="normal" fill="#000" stroke="#000" stroke-width="0.2">50000</text>
<text x="275.80" y="217.06" font-size="3.75" text-anchor="end" font-weight="normal" fill="#000" stroke="#000" stroke-width="0.2">100000</text>
<text x="275.80" y="197.04" font-size="3.75" text-anchor="end" font-weight="normal" fill="#000" stroke="#000" stroke-width="0.2">150000</text>
<text x="275.80" y="177.02" font-size="3.75" text-anchor="end" font-weight="normal" fill="#000" stroke="#000" stroke-width="0.2">200000</text>
<text x="275.80" y="157.00" font-size="3.75" text-anchor="end" font-weight="normal" fill="#000" stroke="#000" stroke-width="0.2">250000</text>
<text x="302.80" y="261.90" font-size="4.95" text-anchor="middle" font-weight="normal" fill="#111" stroke="#111" stroke-width="0.11">EpoR Ø</text>
<text x="349.70" y="261.90" font-size="4.95" text-anchor="middle" font-weight="normal" fill="#111" stroke="#111" stroke-width="0.11">EpoR CALR WT</text>
<text x="396.80" y="261.90" font-size="4.95" text-anchor="middle" font-weight="normal" fill="#111" stroke="#111" stroke-width="0.11">EpoR CALR del52</text>
<text x="443.60" y="261.90" font-size="4.95" text-anchor="middle" font-weight="normal" fill="#111" stroke="#111" stroke-width="0.11">EpoR CALR ins5</text>
<text x="248.70" y="208.00" font-size="4.4" text-anchor="middle" font-weight="bold" fill="#111" transform="rotate(-90 248.70 208.00)" textLength="34.00" lengthAdjust="spacingAndGlyphs" dominant-baseline="central" stroke="#111" stroke-width="0.1">luciferase (rlu)</text>
<rect x="480.10" y="158.90" width="2.00" height="2.00" fill="#b8b8b8"/>
<text x="482.80" y="160.95" font-size="4.5" text-anchor="start" font-weight="normal" fill="#000" textLength="22.80" lengthAdjust="spacingAndGlyphs" stroke="#000" stroke-width="0.1">No cytokine</text>
<rect x="480.10" y="166.40" width="2.00" height="2.00" fill="#5a5a5a"/>
<text x="482.80" y="168.45" font-size="4.5" text-anchor="start" font-weight="normal" fill="#000" textLength="28.00" lengthAdjust="spacingAndGlyphs" stroke="#000" stroke-width="0.1">0.01 U/ml Epo</text>
<rect x="480.10" y="173.40" width="2.00" height="2.00" fill="#333"/>
<text x="482.80" y="175.45" font-size="4.5" text-anchor="start" font-weight="normal" fill="#000" textLength="25.70" lengthAdjust="spacingAndGlyphs" stroke="#000" stroke-width="0.1">0.1 U/ml Epo</text>
<rect x="480.10" y="180.60" width="2.00" height="2.00" fill="#000"/>
<text x="482.80" y="182.65" font-size="4.5" text-anchor="start" font-weight="normal" fill="#000" textLength="21.60" lengthAdjust="spacingAndGlyphs" stroke="#000" stroke-width="0.1">1 U/ml Epo</text>
<rect x="285.50" y="371.96" width="8.45" height="14.04" fill="#c4c4c4"/>
<rect x="293.95" y="364.74" width="8.45" height="21.26" fill="#878787"/>
<rect x="302.40" y="328.14" width="8.45" height="57.86" fill="#454545"/>
<rect x="310.85" y="304.95" width="8.45" height="81.05" fill="#202020"/>
<rect x="332.20" y="364.47" width="8.45" height="21.53" fill="#c4c4c4"/>
<rect x="340.65" y="358.41" width="8.45" height="27.59" fill="#878787"/>
<rect x="349.10" y="331.10" width="8.45" height="54.90" fill="#454545"/>
<rect x="357.55" y="302.82" width="8.45" height="83.18" fill="#202020"/>
<rect x="379.30" y="355.11" width="8.45" height="30.89" fill="#c4c4c4"/>
<rect x="387.75" y="347.33" width="8.45" height="38.67" fill="#878787"/>
<rect x="396.20" y="320.02" width="8.45" height="65.98" fill="#454545"/>
<rect x="404.65" y="304.33" width="8.45" height="81.67" fill="#202020"/>
<rect x="426.30" y="361.99" width="8.45" height="24.01" fill="#c4c4c4"/>
<rect x="434.75" y="358.07" width="8.45" height="27.93" fill="#878787"/>
<rect x="443.20" y="326.90" width="8.45" height="59.10" fill="#454545"/>
<rect x="451.65" y="298.97" width="8.45" height="87.03" fill="#202020"/>
<line x1="278.60" y1="289.20" x2="278.60" y2="386.40" stroke="#222" stroke-width="0.748"/>
<line x1="278.20" y1="386.00" x2="467.00" y2="386.00" stroke="#1a1a1a" stroke-width="0.9520000000000001"/>
<line x1="276.90" y1="386.00" x2="278.60" y2="386.00" stroke="#000" stroke-width="0.9"/>
<line x1="276.90" y1="372.24" x2="278.60" y2="372.24" stroke="#000" stroke-width="0.9"/>
<line x1="276.90" y1="358.48" x2="278.60" y2="358.48" stroke="#000" stroke-width="0.9"/>
<line x1="276.90" y1="344.72" x2="278.60" y2="344.72" stroke="#000" stroke-width="0.9"/>
<line x1="276.90" y1="330.96" x2="278.60" y2="330.96" stroke="#000" stroke-width="0.9"/>
<line x1="276.90" y1="317.20" x2="278.60" y2="317.20" stroke="#000" stroke-width="0.9"/>
<line x1="276.90" y1="303.44" x2="278.60" y2="303.44" stroke="#000" stroke-width="0.9"/>
<line x1="276.90" y1="289.68" x2="278.60" y2="289.68" stroke="#000" stroke-width="0.9"/>
<line x1="325.70" y1="386.00" x2="325.70" y2="387.70" stroke="#000" stroke-width="0.9"/>
<line x1="372.80" y1="386.00" x2="372.80" y2="387.70" stroke="#000" stroke-width="0.9"/>
<line x1="419.90" y1="386.00" x2="419.90" y2="387.70" stroke="#000" stroke-width="0.9"/>
<line x1="467.00" y1="386.00" x2="467.00" y2="387.70" stroke="#000" stroke-width="0.9"/>
<line x1="289.73" y1="368.59" x2="289.73" y2="375.34" stroke="#1c1c1c" stroke-width="0.8"/>
<line x1="287.93" y1="368.59" x2="291.53" y2="368.59" stroke="#1c1c1c" stroke-width="0.8"/>
<line x1="287.93" y1="375.34" x2="291.53" y2="375.34" stroke="#1c1c1c" stroke-width="0.8"/>
<line x1="298.18" y1="361.99" x2="298.18" y2="367.49" stroke="#1c1c1c" stroke-width="0.8"/>
<line x1="296.38" y1="361.99" x2="299.98" y2="361.99" stroke="#1c1c1c" stroke-width="0.8"/>
<line x1="296.38" y1="367.49" x2="299.98" y2="367.49" stroke="#1c1c1c" stroke-width="0.8"/>
<line x1="306.62" y1="322.36" x2="306.62" y2="333.92" stroke="#1c1c1c" stroke-width="0.8"/>
<line x1="304.82" y1="322.36" x2="308.43" y2="322.36" stroke="#1c1c1c" stroke-width="0.8"/>
<line x1="304.82" y1="333.92" x2="308.43" y2="333.92" stroke="#1c1c1c" stroke-width="0.8"/>
<line x1="315.08" y1="302.00" x2="315.08" y2="307.91" stroke="#1c1c1c" stroke-width="0.8"/>
<line x1="313.28" y1="302.00" x2="316.88" y2="302.00" stroke="#1c1c1c" stroke-width="0.8"/>
<line x1="313.28" y1="307.91" x2="316.88" y2="307.91" stroke="#1c1c1c" stroke-width="0.8"/>
<line x1="336.43" y1="362.75" x2="336.43" y2="366.19" stroke="#1c1c1c" stroke-width="0.8"/>
<line x1="334.63" y1="362.75" x2="338.23" y2="362.75" stroke="#1c1c1c" stroke-width="0.8"/>
<line x1="334.63" y1="366.19" x2="338.23" y2="366.19" stroke="#1c1c1c" stroke-width="0.8"/>
<line x1="344.88" y1="356.69" x2="344.88" y2="360.13" stroke="#1c1c1c" stroke-width="0.8"/>
<line x1="343.08" y1="356.69" x2="346.68" y2="356.69" stroke="#1c1c1c" stroke-width="0.8"/>
<line x1="343.08" y1="360.13" x2="346.68" y2="360.13" stroke="#1c1c1c" stroke-width="0.8"/>
<line x1="353.33" y1="329.03" x2="353.33" y2="333.16" stroke="#1c1c1c" stroke-width="0.8"/>
<line x1="351.53" y1="329.03" x2="355.13" y2="329.03" stroke="#1c1c1c" stroke-width="0.8"/>
<line x1="351.53" y1="333.16" x2="355.13" y2="333.16" stroke="#1c1c1c" stroke-width="0.8"/>
<line x1="361.78" y1="299.72" x2="361.78" y2="305.92" stroke="#1c1c1c" stroke-width="0.8"/>
<line x1="359.98" y1="299.72" x2="363.58" y2="299.72" stroke="#1c1c1c" stroke-width="0.8"/>
<line x1="359.98" y1="305.92" x2="363.58" y2="305.92" stroke="#1c1c1c" stroke-width="0.8"/>
<line x1="383.53" y1="352.36" x2="383.53" y2="357.86" stroke="#1c1c1c" stroke-width="0.8"/>
<line x1="381.73" y1="352.36" x2="385.33" y2="352.36" stroke="#1c1c1c" stroke-width="0.8"/>
<line x1="381.73" y1="357.86" x2="385.33" y2="357.86" stroke="#1c1c1c" stroke-width="0.8"/>
<line x1="391.98" y1="346.30" x2="391.98" y2="348.37" stroke="#1c1c1c" stroke-width="0.8"/>
<line x1="390.18" y1="346.30" x2="393.78" y2="346.30" stroke="#1c1c1c" stroke-width="0.8"/>
<line x1="390.18" y1="348.37" x2="393.78" y2="348.37" stroke="#1c1c1c" stroke-width="0.8"/>
<line x1="400.43" y1="316.37" x2="400.43" y2="323.67" stroke="#1c1c1c" stroke-width="0.8"/>
<line x1="398.62" y1="316.37" x2="402.23" y2="316.37" stroke="#1c1c1c" stroke-width="0.8"/>
<line x1="398.62" y1="323.67" x2="402.23" y2="323.67" stroke="#1c1c1c" stroke-width="0.8"/>
<line x1="408.88" y1="301.10" x2="408.88" y2="307.57" stroke="#1c1c1c" stroke-width="0.8"/>
<line x1="407.08" y1="301.10" x2="410.68" y2="301.10" stroke="#1c1c1c" stroke-width="0.8"/>
<line x1="407.08" y1="307.57" x2="410.68" y2="307.57" stroke="#1c1c1c" stroke-width="0.8"/>
<line x1="430.53" y1="358.96" x2="430.53" y2="365.02" stroke="#1c1c1c" stroke-width="0.8"/>
<line x1="428.73" y1="358.96" x2="432.33" y2="358.96" stroke="#1c1c1c" stroke-width="0.8"/>
<line x1="428.73" y1="365.02" x2="432.33" y2="365.02" stroke="#1c1c1c" stroke-width="0.8"/>
<line x1="438.98" y1="356.00" x2="438.98" y2="360.13" stroke="#1c1c1c" stroke-width="0.8"/>
<line x1="437.18" y1="356.00" x2="440.78" y2="356.00" stroke="#1c1c1c" stroke-width="0.8"/>
<line x1="437.18" y1="360.13" x2="440.78" y2="360.13" stroke="#1c1c1c" stroke-width="0.8"/>
<line x1="447.43" y1="323.60" x2="447.43" y2="330.20" stroke="#1c1c1c" stroke-width="0.8"/>
<line x1="445.62" y1="323.60" x2="449.23" y2="323.60" stroke="#1c1c1c" stroke-width="0.8"/>
<line x1="445.62" y1="330.20" x2="449.23" y2="330.20" stroke="#1c1c1c" stroke-width="0.8"/>
<line x1="455.88" y1="295.32" x2="455.88" y2="302.61" stroke="#1c1c1c" stroke-width="0.8"/>
<line x1="454.08" y1="295.32" x2="457.68" y2="295.32" stroke="#1c1c1c" stroke-width="0.8"/>
<line x1="454.08" y1="302.61" x2="457.68" y2="302.61" stroke="#1c1c1c" stroke-width="0.8"/>
<text x="275.60" y="387.60" font-size="3.75" text-anchor="end" font-weight="normal" fill="#000" stroke="#000" stroke-width="0.2">0</text>
<text x="275.60" y="373.84" font-size="3.75" text-anchor="end" font-weight="normal" fill="#000" stroke="#000" stroke-width="0.2">2000</text>
<text x="275.60" y="360.08" font-size="3.75" text-anchor="end" font-weight="normal" fill="#000" stroke="#000" stroke-width="0.2">4000</text>
<text x="275.60" y="346.32" font-size="3.75" text-anchor="end" font-weight="normal" fill="#000" stroke="#000" stroke-width="0.2">6000</text>
<text x="275.60" y="332.56" font-size="3.75" text-anchor="end" font-weight="normal" fill="#000" stroke="#000" stroke-width="0.2">8000</text>
<text x="275.60" y="318.80" font-size="3.75" text-anchor="end" font-weight="normal" fill="#000" stroke="#000" stroke-width="0.2">10000</text>
<text x="275.60" y="305.04" font-size="3.75" text-anchor="end" font-weight="normal" fill="#000" stroke="#000" stroke-width="0.2">12000</text>
<text x="275.60" y="291.28" font-size="3.75" text-anchor="end" font-weight="normal" fill="#000" stroke="#000" stroke-width="0.2">14000</text>
<text x="302.40" y="392.90" font-size="4.95" text-anchor="middle" font-weight="normal" fill="#111" stroke="#111" stroke-width="0.11">GCSFR Ø</text>
<text x="349.10" y="392.90" font-size="4.95" text-anchor="middle" font-weight="normal" fill="#111" stroke="#111" stroke-width="0.11">GCSFR CALR WT</text>
<text x="396.20" y="392.90" font-size="4.95" text-anchor="middle" font-weight="normal" fill="#111" stroke="#111" stroke-width="0.11">GCSFR CALR del52</text>
<text x="443.20" y="392.90" font-size="4.95" text-anchor="middle" font-weight="normal" fill="#111" stroke="#111" stroke-width="0.11">GCSFR CALR ins5</text>
<text x="249.90" y="337.50" font-size="4.4" text-anchor="middle" font-weight="bold" fill="#111" transform="rotate(-90 249.90 337.50)" textLength="30.50" lengthAdjust="spacingAndGlyphs" dominant-baseline="central" stroke="#111" stroke-width="0.1">luciferase (rlu)</text>
<rect x="474.30" y="291.50" width="2.00" height="2.00" fill="#b0b0b0"/>
<text x="477.30" y="293.55" font-size="4.5" text-anchor="start" font-weight="normal" fill="#000" textLength="24.00" lengthAdjust="spacingAndGlyphs" stroke="#000" stroke-width="0.1">No Cytokine</text>
<rect x="474.30" y="299.00" width="2.00" height="2.00" fill="#5a5a5a"/>
<text x="477.30" y="301.05" font-size="4.5" text-anchor="start" font-weight="normal" fill="#000" textLength="32.30" lengthAdjust="spacingAndGlyphs" stroke="#000" stroke-width="0.1">0.1 ng/ml GCSF</text>
<rect x="474.30" y="306.50" width="2.00" height="2.00" fill="#1a1a1a"/>
<text x="477.30" y="308.55" font-size="4.5" text-anchor="start" font-weight="normal" fill="#000" textLength="30.00" lengthAdjust="spacingAndGlyphs" stroke="#000" stroke-width="0.1">1 ng/ml GCSF</text>
<rect x="474.30" y="313.40" width="2.00" height="2.00" fill="#000"/>
<text x="477.30" y="315.45" font-size="4.5" text-anchor="start" font-weight="normal" fill="#000" textLength="30.60" lengthAdjust="spacingAndGlyphs" stroke="#000" stroke-width="0.1">10 ng/ml GCSF</text>
<path d="M288.80,291.80 L288.80,290.20 Q288.80,289.00 290.00,289.00 L427.30,289.00 Q428.50,289.00 428.50,290.20 L428.50,291.80" fill="none" stroke="#111" stroke-width="1.25" stroke-linecap="round"/>
<path d="M288.80,298.30 L288.80,296.70 Q288.80,295.50 290.00,295.50 L383.00,295.50 Q384.20,295.50 384.20,296.70 L384.20,298.30" fill="none" stroke="#111" stroke-width="1.25" stroke-linecap="round"/>
<circle cx="357.53" cy="285.90" r="0.98" fill="#111"/>
<circle cx="360.07" cy="285.90" r="0.98" fill="#111"/>
<circle cx="336.93" cy="292.50" r="0.98" fill="#111"/>
<circle cx="339.47" cy="292.50" r="0.98" fill="#111"/>
</g>
</svg>
</body></html>
